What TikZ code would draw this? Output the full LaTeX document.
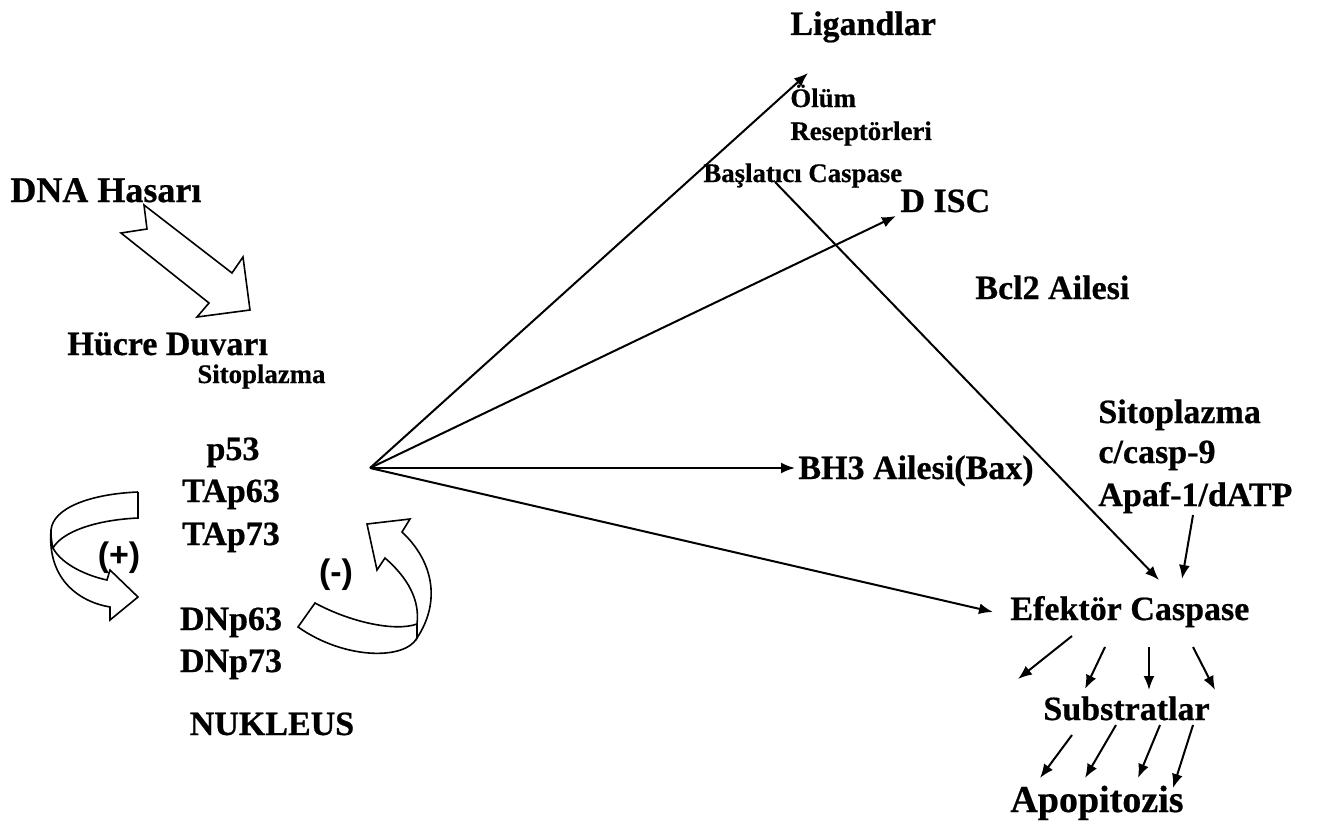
\documentclass[tikz,border=0pt]{standalone}
\usepackage{fontspec}
\setmainfont[BoldFeatures={FakeBold=0.6}]{Liberation Serif}
\newfontfamily\arialfont{Liberation Sans}
\usetikzlibrary{arrows.meta}

\tikzset{
  big/.style={font=\bfseries\fontsize{17}{20}\selectfont, inner sep=0pt, anchor=base west},
  small/.style={font=\bfseries\fontsize{13.4}{16}\selectfont, inner sep=0pt, anchor=base west},
  sign/.style={font=\arialfont\bfseries\fontsize{17}{20}\selectfont, inner sep=0pt, anchor=base},
  ok/.style={->, line width=1pt},
  blok/.style={draw, fill=white, line width=0.8pt, line join=miter},
}

\begin{document}
\begin{tikzpicture}[x=0.5pt, y=-0.5pt, >={Latex[length=7pt,width=5.5pt]}]
    \useasboundingbox (0,0) rectangle (1320,824);

    % hucre tarafi
    \node[big, font=\bfseries\fontsize{18}{21}\selectfont] (dna) at (10,202) {DNA Hasarı};
    \node[big] (hucre) at (67,355) {Hücre Duvarı};
    \node[small] (sito1) at (197,383) {Sitoplazma};
    \node[big, anchor=base] (p53) at (233,460) {p53};
    \node[big, anchor=base] (tap63) at (231,502) {TAp63};
    \node[big, anchor=base] (tap73) at (231,545) {TAp73};
    \node[big, anchor=base] (dnp63) at (231,630) {DNp63};
    \node[big, anchor=base] (dnp73) at (231,672) {DNp73};
    \node[big, anchor=base] (nukleus) at (272,735) {NUKLEUS};
    \node[sign] (arti) at (119,566) {(+)};
    \node[sign] (eksi) at (336,583) {(-)};

    % blok oklar
    \draw[blok] (144,205) -- (232,273) -- (243,257) -- (250,310) -- (197,317)
        -- (209,303) -- (121,233) -- (147,229) -- cycle;
    \draw[blok] (138,492) -- (138,518) .. controls (95,520) and (62,532) .. (53,548)
        .. controls (51,542) and (51,536) .. (51,530) .. controls (53,508) and (90,494) .. (138,492);
    \draw[blok] (51,530) .. controls (47,580) and (80,602) .. (110,607) -- (110,620) -- (138,597)
        -- (110,570) -- (107,580) .. controls (88,576) and (62,565) .. (53,548)
        .. controls (51,542) and (51,536) .. (51,530);
    \draw[blok] (402,532) .. controls (432,560) and (442,600) .. (417,638)
        -- (417,624) .. controls (420,600) and (408,578) .. (385,558) -- (377,570)
        -- (367,524) -- (410,519) -- cycle;
    \draw[blok] (315,603) .. controls (350,622) and (395,632) .. (417,624) -- (417,638)
        .. controls (405,660) and (345,660) .. (298,627) -- cycle;

    % sag taraf
    \node[big] (lig) at (790,35) {Ligandlar};
    \node[small] (olum) at (790,107) {Ölüm};
    \node[small] (resep) at (790,140) {Reseptörleri};
    \node[small] (basl) at (703,182) {Başlatıcı Caspase};
    \node[big] (disc) at (900,212) {D ISC};
    \node[big] (bcl2) at (975,299) {Bcl2 Ailesi};
    \node[big] (bh3) at (798,479) {BH3 Ailesi(Bax)};
    \node[big] (sito2) at (1098,423) {Sitoplazma};
    \node[big] (casp9) at (1098,463) {c/casp-9};
    \node[big] (apaf) at (1098,506) {Apaf-1/dATP};
    \node[big] (efektor) at (1010,620) {Efektör Caspase};
    \node[big] (substrat) at (1043,720) {Substratlar};
    \node[big, font=\bfseries\fontsize{19}{22}\selectfont] (apop) at (1010,812) {Apopitozis};

    % ok uclari
    \coordinate (o) at (370,468);
    \coordinate (ligucu) at (808,73);
    \coordinate (discucu) at (896,216);
    \coordinate (bh3ucu) at (795,468);
    \coordinate (efucu) at (993,612);
    \coordinate (baslbas) at (775,182);
    \coordinate (efust1) at (1159,580);
    \coordinate (apafalt) at (1193,515);
    \coordinate (efust2) at (1182,579);

    \draw[ok] (o) -- (ligucu);
    \draw[ok] (o) -- (discucu);
    \draw[ok] (o) -- (bh3ucu);
    \draw[ok] (o) -- (efucu);
    \draw[ok] (baslbas) -- (efust1);
    \draw[ok] (apafalt) -- (efust2);

    % efektor -> substratlar -> apopitozis
    \draw[ok] (1072,636) -- (1018,679);
    \draw[ok] (1105,647) -- (1085,689);
    \draw[ok] (1149,647) -- (1149,690);
    \draw[ok] (1193,647) -- (1215,690);
    \draw[ok] (1072,735) -- (1040,778);
    \draw[ok] (1116,725) -- (1085,778);
    \draw[ok] (1160,725) -- (1138,778);
    \draw[ok] (1193,725) -- (1173,788);
\end{tikzpicture}
\end{document}
